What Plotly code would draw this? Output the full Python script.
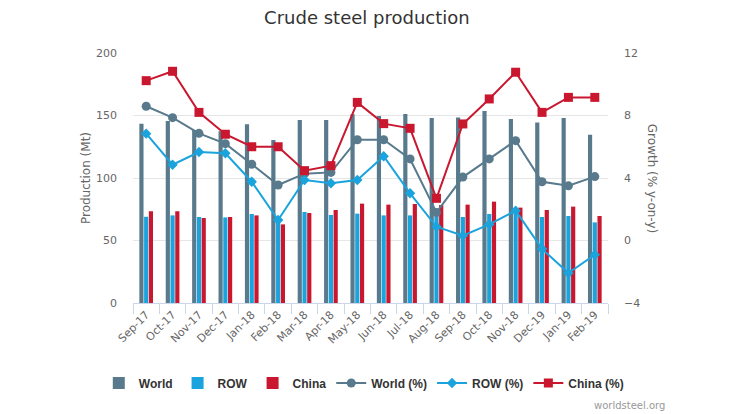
import plotly.graph_objects as go

months = ["Sep-17", "Oct-17", "Nov-17", "Dec-17", "Jan-18", "Feb-18", "Mar-18", "Apr-18",
          "May-18", "Jun-18", "Jul-18", "Aug-18", "Sep-18", "Oct-18", "Nov-18", "Dec-19",
          "Jan-19", "Feb-19"]

world_mt = [143.5, 145.6, 138.5, 137.5, 143.0, 130.4, 146.4, 146.4, 151.0, 149.6,
            151.2, 148.0, 148.5, 153.6, 147.2, 144.5, 148.0, 134.7]
row_mt = [69.0, 70.1, 68.8, 68.5, 71.2, 68.0, 72.8, 70.4, 71.5, 70.1,
          70.1, 70.0, 68.8, 71.2, 72.0, 68.8, 69.6, 64.5]
china_mt = [73.4, 73.4, 68.0, 68.8, 70.1, 62.9, 72.0, 74.4, 79.5, 78.7,
            79.2, 78.4, 78.7, 81.1, 76.3, 74.4, 77.1, 69.6]

world_pct = [8.59, 7.86, 6.86, 6.20, 4.88, 3.55, 4.28, 4.36, 6.45, 6.45,
             5.22, 1.80, 4.06, 5.22, 6.39, 3.76, 3.50, 4.09]
row_pct = [6.84, 4.85, 5.66, 5.58, 3.76, 1.31, 3.87, 3.66, 3.87, 5.39,
           3.02, 0.88, 0.31, 1.03, 1.91, -0.54, -2.08, -0.91]
china_pct = [10.23, 10.83, 8.20, 6.80, 6.00, 6.00, 4.47, 4.79, 8.84, 7.48,
             7.18, 2.70, 7.46, 9.06, 10.77, 8.20, 9.16, 9.16]

C_WORLD = "#587a8c"
C_ROW = "#1aa3dc"
C_CHINA = "#c8172e"

fig = go.Figure()
fig.add_trace(go.Bar(x=months, y=world_mt, name="World", marker_color=C_WORLD, marker_line_width=0))
fig.add_trace(go.Bar(x=months, y=row_mt, name="ROW", marker_color=C_ROW, marker_line_width=0))
fig.add_trace(go.Bar(x=months, y=china_mt, name="China", marker_color=C_CHINA, marker_line_width=0))

fig.add_trace(go.Scatter(x=months, y=world_pct, name="World (%)", yaxis="y2", mode="lines+markers",
                         line=dict(color=C_WORLD, width=2), marker=dict(symbol="circle", size=9, color=C_WORLD)))
fig.add_trace(go.Scatter(x=months, y=row_pct, name="ROW (%)", yaxis="y2", mode="lines+markers",
                         line=dict(color=C_ROW, width=2), marker=dict(symbol="diamond", size=8, color=C_ROW)))
fig.add_trace(go.Scatter(x=months, y=china_pct, name="China (%)", yaxis="y2", mode="lines+markers",
                         line=dict(color=C_CHINA, width=2), marker=dict(symbol="square", size=9, color=C_CHINA)))

fig.update_layout(
    width=728, height=406,
    margin=dict(l=125, r=128, t=45, b=111),
    paper_bgcolor="white", plot_bgcolor="white",
    font=dict(family="DejaVu Sans", color="#666666", size=11),
    title=dict(text="Crude steel production", x=0.493, xanchor="center", y=0.975, yanchor="middle",
               font=dict(size=18, color="#333333")),
    barmode="group", bargap=0.46, bargroupgap=0.12,
    showlegend=True,
    legend=dict(orientation="h", x=-0.072, xanchor="left", y=-0.32, yanchor="middle",
                font=dict(size=12, color="#333333", family="Liberation Sans", weight="bold"),
                itemwidth=30, tracegroupgap=0, traceorder="normal"),
    xaxis=dict(type="category", range=[-0.5, 17.5], showgrid=False, showline=True,
               linecolor="#ccd6eb", linewidth=1,
               ticks="outside", tickson="boundaries", ticklen=10, tickcolor="#ccd6eb",
               tickangle=-45, tickfont=dict(size=11, color="#666666")),
    yaxis=dict(range=[0, 200], dtick=50, showgrid=True, gridcolor="#e6e6e6", zeroline=False,
               showline=False, tickfont=dict(size=11, color="#666666"), ticklabelstandoff=15,
               title=dict(text="Production (Mt)", font=dict(size=12, color="#666666"), standoff=2)),
    yaxis2=dict(range=[-4, 12], dtick=4, overlaying="y", side="right", showgrid=False, zeroline=False,
                tickfont=dict(size=11, color="#666666"), ticklabelstandoff=15),
    annotations=[
        dict(text="Growth (% y-on-y)", textangle=90, xref="paper", yref="paper", x=1.093, y=0.5,
             xanchor="center", yanchor="middle", showarrow=False,
             font=dict(size=12, color="#666666")),
        dict(text="worldsteel.org", xref="paper", yref="paper", x=1.124, y=-0.408,
             xanchor="right", yanchor="middle", showarrow=False,
             font=dict(size=10, color="#999999")),
    ],
)

fig.write_html("out.html")
